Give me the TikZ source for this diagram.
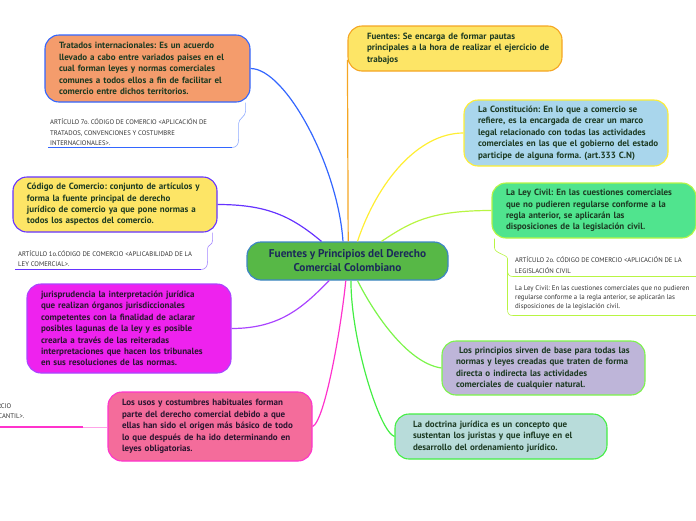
\documentclass[tikz,border=0pt]{standalone}
\usepackage{fontspec}
\setmainfont{PT Sans}
\frenchspacing
\definecolor{txtgreen}{HTML}{1C3A22}
\definecolor{txtdark}{HTML}{2A1530}
\definecolor{hubtext}{HTML}{1B2A5A}
\definecolor{notegray}{HTML}{333333}
\definecolor{hubfill}{HTML}{57B846}
\definecolor{hubline}{HTML}{3D85C6}
\definecolor{tratfill}{HTML}{F49C6C}
\definecolor{tratline}{HTML}{3366FF}
\definecolor{fuenfill}{HTML}{FDE566}
\definecolor{fuenline}{HTML}{F5A623}
\definecolor{constfill}{HTML}{A9D6EC}
\definecolor{constline}{HTML}{FFEE33}
\definecolor{leyfill}{HTML}{50E48E}
\definecolor{leyline}{HTML}{B8F543}
\definecolor{princfill}{HTML}{BEB5D9}
\definecolor{princline}{HTML}{7CF54A}
\definecolor{doctfill}{HTML}{B8DCDA}
\definecolor{doctline}{HTML}{44EE44}
\definecolor{usosfill}{HTML}{F46C9B}
\definecolor{usosline}{HTML}{FF33CC}
\definecolor{jurisfill}{HTML}{EE22EE}
\definecolor{jurisline}{HTML}{AA44FF}
\definecolor{codline}{HTML}{6633FF}
\begin{document}
\begin{tikzpicture}[x=1pt,y=-1pt,
    topic/.style={draw, rounded corners=14pt, line width=1.1pt, align=left,
      inner xsep=14pt, inner ysep=0pt, text=txtgreen,
      font=\fontsize{9}{11.4}\selectfont\bfseries},
    note/.style={inner sep=0pt, align=left, text=notegray,
      font=\fontsize{6.7}{10.5}\selectfont},
    link/.style={line width=1.2pt},
    brace/.style={line width=0.6pt},
    underl/.style={line width=1.5pt}]
  \useasboundingbox (0,0) rectangle (696,520);
  \clip (0,0) rectangle (696,520);

  % central topic
  \node[draw=hubline, fill=hubfill, rounded corners=14pt, line width=1.2pt,
    minimum width=201pt, minimum height=38pt, inner sep=0pt, align=center,
    text=hubtext, font=\fontsize{11.3}{14}\selectfont\bfseries] (hub) at (347.5,261)
    {Fuentes y Principios del Derecho\\Comercial Colombiano};

  % left side
  \node[topic, fill=tratfill, draw=tratline, text width=177pt, minimum height=67pt] (tratados) at (147.5,68.5)
    {Tratados internacionales: Es un acuerdo\\llevado a cabo entre variados paises en el\\cual forman leyes y normas comerciales\\comunes a todos ellos a fin de facilitar el\\comercio entre dichos territorios.};
  \node[topic, fill=fuenfill, draw=codline, text width=176pt, minimum height=55pt] (codigo) at (115,204.5)
    {Código de Comercio: conjunto de artículos y\\forma la fuente principal de derecho\\jurídico de comercio ya que pone normas a\\todos los aspectos del comercio.};
  \node[topic, fill=jurisfill, draw=jurisline, text=txtdark, text width=176pt, minimum height=89pt] (juris) at (129,328.5)
    {jurisprudencia la interpretación jurídica\\que realizan órganos jurisdiccionales\\competentes con la finalidad de aclarar\\posibles lagunas de la ley y es posible\\crearla a través de las reiteradas\\interpretaciones que hacen los tribunales\\en sus resoluciones de las normas.};
  \node[topic, fill=usosfill, draw=usosline, text=txtdark, text width=176pt, minimum height=69pt] (usos) at (210,426.5)
    {Los usos y costumbres habituales forman\\parte del derecho comercial debido a que\\ellas han sido el origen más básico de todo\\lo que después de ha ido determinando en\\leyes obligatorias.};

  % right side
  \node[topic, fill=fuenfill, draw=fuenline, inner xsep=19pt, text width=176pt, minimum height=45pt] (fuentes) at (455,48.5)
    {Fuentes: Se encarga de formar pautas\\\mbox{principales a la hora de realizar el ejercicio de}\\trabajos};
  \node[topic, fill=constfill, draw=constline, text width=176pt, minimum height=66pt] (const) at (566,133)
    {La Constitución: En lo que a comercio se\\refiere, es la encargada de crear un marco\\legal relacionado con todas las actividades\\\mbox{comerciales en las que el gobierno del estado}\\participe de alguna forma. (art.333 C.N)};
  \node[topic, fill=leyfill, draw=leyline, text width=176pt, minimum height=55pt] (leycivil) at (594,210.5)
    {La Ley Civil: En las cuestiones comerciales\\que no pudieren regularse conforme a la\\regla anterior, se aplicarán las\\disposiciones de la legislación civil.};
  \node[topic, fill=princfill, draw=princline, text width=175pt, minimum height=54pt] (princ) at (543.5,368)
    {\ Los principios sirven de base para todas las\\normas y leyes creadas que traten de forma\\directa o indirecta las actividades\\comerciales de cualquier natural.};
  \node[topic, fill=doctfill, draw=doctline, inner xsep=18pt, text width=176pt, minimum height=45pt] (doct) at (501,436.5)
    {La doctrina jurídica es un concepto que\\sustentan los juristas y que influye en el\\desarrollo del ordenamiento jurídico.};

  % notes
  \node[note, anchor=west] (art7) at (50,132.5)
    {ARTÍCULO 7o. CÓDIGO DE COMERCIO <APLICACIÓN DE\\TRATADOS, CONVENCIONES Y COSTUMBRE\\INTERNACIONALES>.};
  \node[note, anchor=west, font=\fontsize{6.7}{9.5}\selectfont] (art1) at (18,258.5)
    {ARTÍCULO 1o.CÓDIGO DE COMERCIO <APLICABILIDAD DE LA\\LEY COMERCIAL>.};
  \node[note, anchor=west] (art2) at (515,265)
    {ARTÍCULO 2o. CÓDIGO DE COMERCIO <APLICACIÓN DE LA\\LEGISLACIÓN CIVIL};
  \node[note, anchor=west, font=\fontsize{6.9}{9.2}\selectfont] (leynote) at (515,298)
    {La Ley Civil: En las cuestiones comerciales que no pudieren\\regularse conforme a la regla anterior, se aplicarán las\\disposiciones de la legislación civil.};
  \node[note, anchor=north west] (art3) at (-96,402)
    {ARTÍCULO 3o. CÓDIGO DE COMERCIO\\<VALOR DE LA COSTUMBRE MERCANTIL>.};

  % connectors
  \draw[link, tratline] (tratados.east) .. controls +(35,0) and +(-5,-75) .. (hub.103);
  \draw[link, fuenline] ([yshift=-11.5pt]fuentes.west) -- (hub.88);
  \draw[link, constline] (const.west) .. controls +(-45,0) and +(20,-60) .. (hub.63);
  \draw[link, leyline] (leycivil.west) .. controls +(-60,0) and +(30,-20) .. (hub.30);
  \draw[link, codline] (codigo.east) .. controls +(50,0) and +(-30,-25) .. (hub.143);
  \draw[link, jurisline] (juris.east) .. controls +(50,0) and +(-25,25) .. (hub.227);
  \draw[link, usosline] (usos.east) .. controls +(12,-5) and +(-5,50) .. (hub.265);
  \draw[link, doctline] (doct.west) .. controls +(-15,-5) and +(0,60) .. (hub.280);
  \draw[link, princline] (princ.west) .. controls +(-35,-5) and +(15,30) .. (hub.297);

  % note brackets and underlines
  \draw[brace, tratline!55] ([xshift=-5pt]tratados.south east) -- ++(0,9)
    .. controls +(0,5) and +(0,-5) .. ++(-7,12) -- ++(0,16)
    .. controls +(0,5) and +(5,0) .. ++(-7,8) coordinate (t7);
  \draw[underl, tratline] (t7) -- ++(-184,0);
  \draw[brace, codline!60] ([xshift=-5pt]codigo.south east) -- ++(0,8)
    .. controls +(0,5) and +(0,-4) .. ++(-5,8) -- ++(0,13)
    .. controls +(0,5) and +(5,0) .. ++(-7,8) coordinate (t1);
  \draw[underl, codline] (t1) -- ++(-186,0);
  \draw[brace, leyline] ([xshift=3pt]leycivil.south west) -- ++(0,9)
    .. controls +(0,6) and +(0,-4) .. ++(13,11) coordinate (lb) -- ++(0,50)
    .. controls +(0,5) and +(-5,0) .. ++(6,7) coordinate (t2b);
  \draw[brace, leyline] ([yshift=-10pt]lb) .. controls +(0,6) and +(-5,0) .. ++(6,8) coordinate (t2);
  \draw[underl, leyline] (t2) -- ++(190,0);
  \draw[underl, leyline] (t2b) -- ++(190,0);
  \draw[brace, usosline!45] ([yshift=-0.5pt]usos.west) -- ++(-24,0) coordinate (t3);
  \draw[underl, usosline] (t3) -- ++(-90,0);
\end{tikzpicture}
\end{document}
